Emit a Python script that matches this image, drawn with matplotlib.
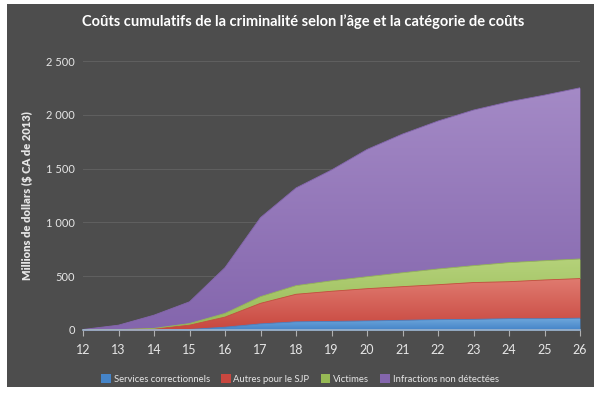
import numpy as np
import matplotlib
matplotlib.use('Agg')
import matplotlib.pyplot as plt
from matplotlib.patches import Rectangle

plt.rcParams['font.family'] = ['Lato', 'DejaVu Sans']

# Données (millions de $ CA de 2013)
ages = [12, 13, 14, 15, 16, 17, 18, 19, 20, 21, 22, 23, 24, 25, 26]
services = [0, 0, 0, 5, 26, 57, 76, 80, 84, 90, 96, 99, 105, 105, 110]
autres_sjp = [0, 3, 10, 40, 94, 191, 256, 280, 300, 313, 325, 342, 344, 360, 368]
victimes = [0, 0, 5, 15, 34, 62, 80, 97, 111, 129, 146, 157, 177, 179, 182]
non_detectees = [5, 42, 123, 202, 426, 735, 908, 1030, 1183, 1289, 1375, 1446, 1495, 1539, 1591]

labels = ['Services correctionnels', 'Autres pour le SJP', 'Victimes',
          'Infractions non détectées']
# couleur claire (haut) / foncée (bas) pour le dégradé
colors = [('#6fa8dc', '#4584c8'), ('#e07b70', '#c8473f'),
          ('#b5d27a', '#96b955'), ('#a48ac6', '#8466ad')]

bg = '#4d4d4d'
txt = '#e6e6e6'

fig = plt.figure(figsize=(6, 3.93), dpi=100)
fig.patch.set_facecolor('white')
fig.patches.append(Rectangle((7/600, 1 - 387/393), 587/600, 383/393,
                             transform=fig.transFigure, facecolor=bg,
                             edgecolor='none', zorder=-1))

ax = fig.add_axes([83/600, 1 - 330/393, 497/600, 269/393])
ax.set_facecolor(bg)

x = np.array(ages, dtype=float)
series = [services, autres_sjp, victimes, non_detectees]
base = np.zeros(len(ages))
handles = []
for s, (c1, c2), lab in zip(series, colors, labels):
    top = base + np.array(s)
    poly = ax.fill_between(x, base, top, color=c2, lw=0, zorder=2)
    # dégradé vertical dans la couche
    grad = np.linspace(0, 1, 256).reshape(-1, 1)
    cmap = matplotlib.colors.LinearSegmentedColormap.from_list('g', [c2, c1])
    ymax = max(top.max(), 1)
    im = ax.imshow(grad, extent=[12, 26, 0, ymax], origin='lower', aspect='auto',
                   cmap=cmap, zorder=2.5)
    im.set_clip_path(poly.get_paths()[0], ax.transData)
    ax.plot(x, top, color=c2, lw=0.6, zorder=3)
    handles.append(Rectangle((0, 0), 1, 1, facecolor=c2, edgecolor='none'))
    base = top

ax.set_xlim(12, 26)
ax.set_ylim(0, 2500)
ax.set_xticks(ages)
ax.set_yticks([0, 500, 1000, 1500, 2000, 2500])
ax.set_yticklabels(['0', '500', '1 000', '1 500', '2 000', '2 500'])
ax.grid(axis='y', color='#5f5f5f', lw=0.8, zorder=1)
ax.set_axisbelow(True)
for sp in ['top', 'right', 'left']:
    ax.spines[sp].set_visible(False)
ax.spines['bottom'].set_color('#9fb4cc')
ax.spines['bottom'].set_linewidth(1.2)
ax.spines['bottom'].set_zorder(4)
ax.tick_params(axis='x', colors='#b0b0b0', length=4, width=0.8, labelcolor=txt,
               labelsize=9, pad=6)
ax.tick_params(axis='y', length=0, labelcolor=txt, labelsize=8, pad=6)

ax.set_ylabel('Millions de dollars ($ CA de 2013)', color=txt, fontsize=8,
              fontweight='heavy', labelpad=9)

fig.text(0.505, 1 - 22/393,
         'Coûts cumulatifs de la criminalité selon l\u2019âge et la catégorie de coûts',
         ha='center', va='center', color='white', fontsize=10.5, fontweight='bold')

leg = fig.legend(handles, labels, loc='center', bbox_to_anchor=(0.5, 1 - 379/393),
                 ncol=4, frameon=False, fontsize=6.8, handlelength=1.0,
                 handleheight=1.0, handletextpad=0.3, columnspacing=1.2)
for t in leg.get_texts():
    t.set_color(txt)

fig.savefig('out.png', dpi=100, facecolor=fig.get_facecolor())
